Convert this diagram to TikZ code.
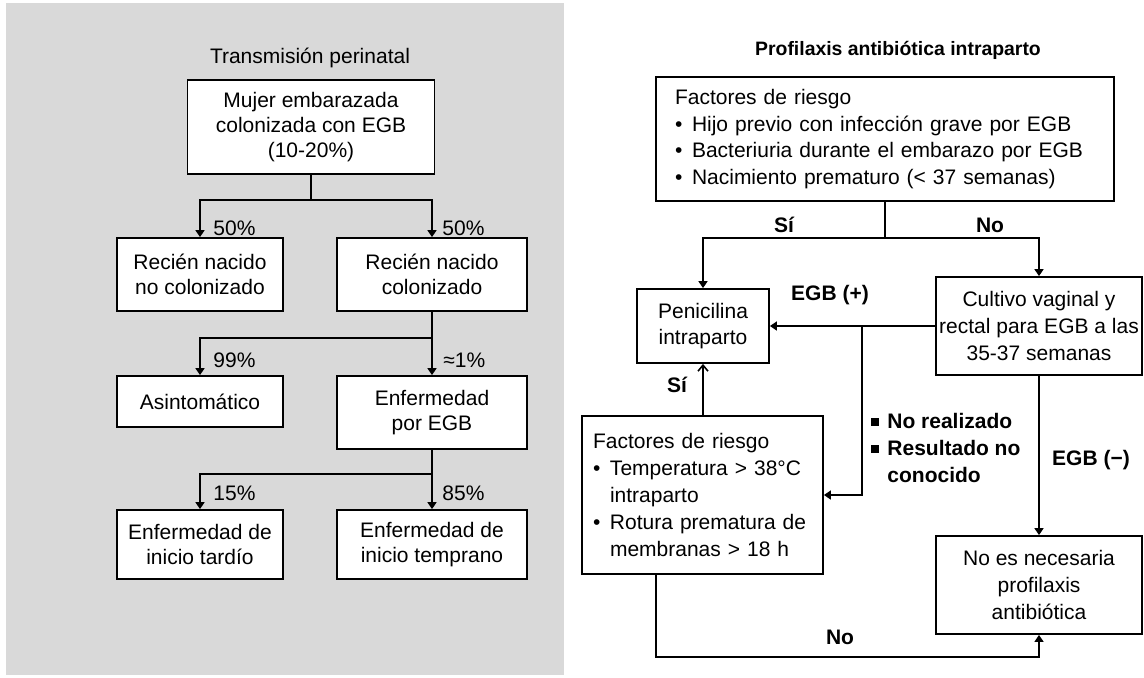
\documentclass[tikz,border=0pt]{standalone}
\usepackage{fontspec}
\setmainfont{Liberation Sans}
\usetikzlibrary{arrows.meta}
\definecolor{panelgray}{HTML}{D9D9D9}
\newcommand{\bul}{\makebox[8.5pt][l]{•}}
\newcommand{\sqbul}{\makebox[8pt][l]{\raisebox{1.5pt}{\rule{4pt}{4pt}}}}

\begin{document}
\begin{tikzpicture}[x=0.5pt,y=-0.5pt,
  box/.style={draw,line width=0.9pt,fill=white,inner sep=0pt,align=center,
    font=\fontsize{10.5}{12.5}\selectfont},
  rbox/.style={box,font=\fontsize{10.5}{13.4}\selectfont},
  link/.style={line width=0.8pt},
  arr/.style={line width=0.8pt,-{Triangle[length=3.5pt,width=4.5pt]}},
  arrup/.style={line width=0.8pt,-{Straight Barb[length=3pt,width=5pt]}},
  lbl/.style={inner sep=0pt,font=\fontsize{10.5}{12.5}\selectfont},
  blbl/.style={inner sep=0pt,font=\fontsize{10.5}{13.5}\selectfont\bfseries}]
\useasboundingbox (0,0) rectangle (1144,677);

% Transmision perinatal
\fill[panelgray] (6,3) rectangle (564,675);
\node[lbl] (titleL) at (310,58) {Transmisión perinatal};

\node[box,minimum width=123.5pt,minimum height=47pt] (mujer) at (311,127)
  {Mujer embarazada\\colonizada con EGB\\(10-20\%)};
\node[box,minimum width=83pt,minimum height=36.5pt] (rnno) at (200,274.5) {Recién nacido\\no colonizado};
\node[box,minimum width=95pt,minimum height=36.5pt] (rncol) at (432,274.5) {Recién nacido\\colonizado};
\node[box,minimum width=83pt,minimum height=25.5pt] (asint) at (200,401.5) {Asintomático};
\node[box,minimum width=95pt,minimum height=36.5pt] (enf) at (432,412.5) {Enfermedad\\por EGB};
\node[box,minimum width=83pt,minimum height=34.5pt] (tardio) at (200,544.5) {Enfermedad de\\inicio tardío};
\node[box,minimum width=95pt,minimum height=34.5pt] (temprano) at (432,544.5) {Enfermedad de\\inicio temprano};

\coordinate (s1) at (311,200);
\coordinate (s2) at (432,338);
\coordinate (s3) at (432,474);
\draw[link] (mujer.south) -- (s1);
\draw[arr] (s1) -| (rnno.north);
\draw[arr] (s1) -| (rncol.north);
\draw[link] (rncol.south) -- (s2);
\draw[arr] (s2) -| (asint.north);
\draw[arr] (s2) -- (enf.north);
\draw[link] (enf.south) -- (s3);
\draw[arr] (s3) -| (tardio.north);
\draw[arr] (s3) -- (temprano.north);

\begin{scope}[anchor=west]
\node[lbl] (p50a) at (213,228) {50\%};
\node[lbl] (p50b) at (442,228) {50\%};
\node[lbl] (p99) at (213,360) {99\%};
\node[lbl] (p1) at (443,360) {≈1\%};
\node[lbl] (p15) at (213,493) {15\%};
\node[lbl] (p85) at (442,493) {85\%};
\end{scope}

% Profilaxis antibiotica intraparto
\node[blbl,font=\fontsize{9.7}{12}\selectfont\bfseries] (titleR) at (898,50) {Profilaxis antibiótica intraparto};

\node[rbox,align=left,text width=210pt,minimum width=229pt,minimum height=62pt] (riesgo) at (885,139)
  {Factores de riesgo\\
   \bul Hijo previo con infección grave por EGB\\
   \bul Bacteriuria durante el embarazo por EGB\\
   \bul Nacimiento prematuro (< 37 semanas)};
\node[rbox,minimum width=66pt,minimum height=37pt] (peni) at (703,326) {Penicilina\\intraparto};
\node[rbox,minimum width=103pt,minimum height=49pt] (cultivo) at (1039,326)
  {Cultivo vaginal y\\rectal para EGB a las\\35-37 semanas};
\node[rbox,align=left,text width=109.5pt,minimum width=120.5pt,minimum height=79pt] (fact) at (702.5,495)
  {Factores de riesgo\\
   \bul Temperatura > 38°C\\
   \hspace*{8.5pt}intraparto\\
   \bul Rotura prematura de\\
   \hspace*{8.5pt}membranas > 18 h};
\node[rbox,minimum width=103pt,minimum height=49pt] (noes) at (1039,585)
  {No es necesaria\\profilaxis\\antibiótica};

\coordinate (r1) at (885,238);
\coordinate (r2) at (862,326);
\coordinate (r3) at (656,657);
\draw[link] (riesgo.south) -- (r1);
\draw[arr] (r1) -| (peni.north);
\draw[arr] (r1) -| (cultivo.north);
\draw[arr] (cultivo.west) -- (peni.east);
\draw[arr] (r2) |- (fact.east);
\draw[arrup] (peni.south |- fact.north) -- (peni.south);
\draw[arr] (cultivo.south) -- (noes.north);
\draw[arr] (fact.south -| r3) -- (r3) -| (noes.south);

\node[blbl] (si1) at (784,225) {Sí};
\node[blbl] (no1) at (990,225) {No};
\node[blbl] (egbpos) at (830,295) {EGB (+)};
\node[blbl] (si2) at (677,385) {Sí};
\node[blbl] (egbneg) at (1091,460) {EGB (−)};
\node[blbl] (no2) at (840,637) {No};
\node[blbl,anchor=west,align=left] (sinres) at (871,448)
  {\sqbul No realizado\\\sqbul Resultado no\\\hspace*{8pt}conocido};
\end{tikzpicture}
\end{document}
